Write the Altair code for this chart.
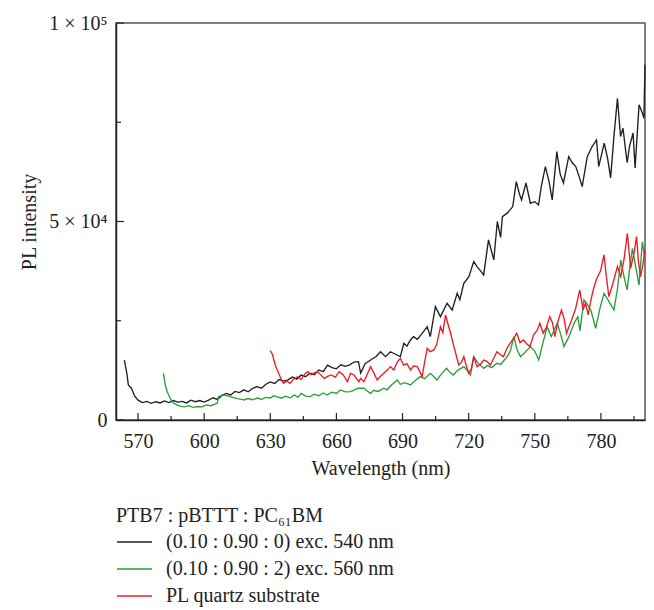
import altair as alt
import pandas as pd

# ---- data ----
black_nm = [563.8, 565, 565.6, 567, 568.5, 570, 572, 574, 576, 578, 580, 582, 584, 586, 588, 590, 592, 594, 596, 598,
            600, 602, 604, 606, 608, 610, 612, 614, 616, 618, 620, 622, 624, 626, 628, 630, 632, 634, 636, 638,
            640, 642, 644, 646, 648, 650, 652, 654, 656, 658, 660, 662, 664, 666, 668, 670, 671, 673, 675.5, 678,
            680, 682.3, 684.5, 687, 689, 690.6, 692, 693.6, 695, 696.7, 698.9, 701.2, 702.6, 704.9, 707.2, 710.2,
            712.5, 714.8, 716, 717.8, 720.1, 722.3, 723.8, 725.5, 726.8, 729, 731.4, 733, 734.5, 735.3, 737.5, 740,
            741.6, 743, 744, 746, 748, 750, 751.7, 753, 754.8, 756.5, 757.9, 760, 761.5, 763, 765.4, 767, 768.6,
            770, 771.5, 773.8, 776, 778, 779, 781.5, 783, 784.4, 786, 787.5, 788.9, 790, 791.9, 793, 794.6, 795.5,
            797.3, 799, 799.5, 800]
black_val = [15100, 11500, 8800, 8000, 6000, 5000, 4400, 4700, 4200, 4600, 4300, 4800, 4400, 4900, 4500, 4700, 4300, 5000, 4600, 4900,
             4500, 5000, 5600, 5200, 6200, 6700, 6300, 7200, 6900, 7600, 7100, 8000, 8400, 8000, 9000, 9600, 9200, 10200, 9800, 10100,
             10800, 10300, 11300, 10900, 11800, 11400, 12600, 12200, 13800, 13200, 12900, 13900, 13500, 13900, 14600, 14700, 11800, 14200, 15100, 16000,
             17200, 15960, 17200, 16500, 15960, 19320, 18600, 20160, 21000, 20300, 21840, 23500, 21000, 28560, 26040, 29400,
             27720, 31920, 30300, 34440, 36100, 39900, 38640, 37500, 36540, 45360, 40320, 50000, 46000, 51200, 52100, 53760,
             60050, 57000, 55440, 59700, 54600, 55000, 54180, 59000, 63840, 60000, 55440, 67600, 62000, 59700, 66350, 64800, 63840,
             61500, 58800, 66350, 68880, 70560, 63840, 69720, 66000, 61000, 72000, 81000, 71400, 73500, 64800, 69000, 72300, 63500,
             79380, 77000, 76000, 89500]

green_nm = [581.5, 582.3, 583.2, 583.9, 585, 586, 587.7, 589, 591, 593, 595, 597, 599, 601, 603, 605, 606, 606.5, 608, 609,
            611, 613, 615, 617, 618, 620, 622, 624, 626, 628, 630, 631.5, 633, 635, 637, 639, 641, 642.5, 644, 646,
            648, 650, 652, 654, 655.7, 658, 660, 661.8, 664, 666.4, 668, 670, 672.5, 674, 675.5, 677, 679, 681.5, 683, 685,
            687.6, 689, 691, 693.6, 695.5, 698, 700, 702.6, 704, 705.6, 707.5, 710, 711.5, 713, 715, 717.8, 719.5, 720.8,
            722.3, 724, 726.8, 728.5, 730.5, 732.8, 734.5, 736, 737.5, 739, 740.5, 742, 743.5, 745.5, 748, 750, 751.8,
            753.5, 755.6, 757.5, 760.2, 761.8, 763.2, 765.5, 767.8, 769.5, 770.5, 772.3, 774, 775.4, 776.5, 777.6, 779.5,
            781.4, 783.5, 785.9, 787.5, 789, 790.5, 791.9, 793, 794.3, 795.8, 797.3, 798.8, 800]
green_val = [11760, 9000, 7200, 6300, 5000, 4300, 3780, 3500, 3300, 3600, 3200, 3400, 3300, 3780, 3600, 4000, 4280, 5900, 6100, 6300,
             6000, 5700, 5400, 5200, 5040, 5400, 5100, 5540, 5200, 5700, 5540, 6100, 5880, 5500, 6000, 5600, 6300, 5700, 6720, 6000,
             5880, 6500, 6100, 6800, 6300, 7000, 6700, 7560, 7100, 7140, 7500, 8000, 8000, 7300, 6720, 7500, 7200, 8000, 7600, 8800,
             10080, 9000, 9400, 8820, 9800, 10920, 10400, 11760, 11000, 10080, 11500, 13020, 12000, 11340, 12500, 13440, 12400, 11340,
             15960, 14500, 13000, 13700, 13200, 14280, 14000, 15000, 15960, 17500, 21000, 17600, 15960, 17000, 18480, 17300, 15100,
             19000, 23500, 21000, 24400, 21500, 18480, 21000, 24360, 26000, 22500, 30240, 29000, 27720, 25500, 23100, 28000,
             31900, 30000, 27700, 33000, 40300, 36000, 32760, 38000, 43260, 38500, 34000, 44900, 40300]

red_nm = [630, 631, 631.6, 632.5, 633.8, 635, 636, 637.5, 639, 640.5, 642.4, 644, 645.5, 647, 648.5, 650, 651.5, 653, 654.5, 656,
          657.5, 659.5, 661.3, 663, 665, 666.4, 668, 670.2, 671, 672.5, 674, 675.5, 677, 678.5, 680, 681.5, 683, 684.5, 686, 687.5,
          689, 690.5, 692, 693.6, 695, 696.7, 698, 698.9, 700, 701.2, 702.5, 704.2, 705.5, 707.2, 708.3, 709.5, 710.7, 711.8, 713.3, 714.5,
          715.5, 716.7, 717.8, 719, 720.1, 721.3, 722.3, 723.8, 725.3, 726.8, 728.3, 729.8, 731.3, 732.8, 734.3, 735.8, 737.3, 738.8,
          740.3, 741.8, 743.3, 744.8, 746.3, 747.8, 749.5, 751, 752.3, 753.8, 755.3, 756.8, 758, 759.1, 760.6, 762.1, 763.3, 764.4,
          765.5, 766.7, 768.5, 770.4, 771.9, 773, 774.2, 775.4, 776.5, 778, 779.8, 781.4, 782.5, 783.6, 785.5, 787.5, 789, 790.5,
          792, 793.5, 795, 796.2, 797, 798, 799, 800]
red_val = [17460, 16500, 15100, 13500, 11760, 10200, 9240, 9800, 9240, 10300, 10900, 10200, 11500, 12180, 11400, 11900, 12180, 11300, 10500, 11000,
           11340, 10800, 12180, 11400, 9660, 11760, 11340, 9660, 10500, 9660, 11500, 13440, 11800, 10080, 11000, 11760, 12500, 13440, 12600, 14500,
           15540, 13800, 14200, 12600, 13600, 13440, 12000, 10920, 14500, 18060, 17200, 17640, 19000, 23500, 22000, 26460, 24000, 21840, 18480, 16000,
           13860, 14500, 15960, 13500, 11760, 13000, 15960, 13440, 14000, 15100, 14800, 13860, 15500, 17200, 16500, 15960, 18000, 19320,
           20500, 21840, 19500, 20160, 19200, 18480, 21500, 22500, 24360, 21840, 23500, 26040, 24500, 21000, 25000, 27720, 25500, 21840,
           23500, 25200, 28000, 32760, 27720, 29500, 26460, 30000, 32760, 35500, 37500, 41600, 36000, 31080, 34500, 38640, 36120, 40500,
           47000, 38220, 42000, 46200, 40000, 36120, 39000, 42840]

series_names = ["(0.10 : 0.90 : 0) exc. 540 nm", "(0.10 : 0.90 : 2) exc. 560 nm", "PL quartz substrate"]
series_colors = ["#231f20", "#2a9d3a", "#ec1c24"]

x_major = [570, 600, 630, 660, 690, 720, 750, 780]
x_minor = [585, 615, 645, 675, 705, 735, 765, 795]
y_major = [0, 50000, 100000]
y_minor = [25000, 75000]

rows = []
for nm, v in zip(black_nm, black_val):
    rows.append({"nm": nm, "val": v, "s": series_names[0]})
for nm, v in zip(green_nm, green_val):
    rows.append({"nm": nm, "val": v, "s": series_names[1]})
for nm, v in zip(red_nm, red_val):
    rows.append({"nm": nm, "val": v, "s": series_names[2]})
df = pd.DataFrame(rows)

W, H = 529, 397
FONT = "Liberation Serif"
FS = 20

xscale = alt.Scale(domain=[560, 800], nice=False, zero=False)
yscale = alt.Scale(domain=[0, 100000], nice=False)

label_expr = ("datum.value == 0 ? '0' : datum.value == 50000 ? '5 × 10⁴' : "
              "datum.value == 100000 ? '1 × 10⁵' : ''")

lines = alt.Chart(df).mark_line(strokeWidth=1.35).encode(
    x=alt.X("nm:Q", scale=xscale,
            axis=alt.Axis(title="Wavelength (nm)", values=x_major, ticks=False, tickSize=0,
                          grid=False, labelPadding=11, titlePadding=7, domainColor="#222",
                          domainWidth=1.5)),
    y=alt.Y("val:Q", scale=yscale,
            axis=alt.Axis(title="PL intensity", values=y_major, ticks=False, tickSize=0,
                          grid=False, labelExpr=label_expr, labelPadding=9, titlePadding=9,
                          domainColor="#222", domainWidth=1.5)),
    color=alt.Color("s:N", scale=alt.Scale(domain=series_names, range=series_colors),
                    legend=alt.Legend(title="PTB7 : pBTTT : PC₆₁BM", orient="none", legendX=0,
                                      legendY=483, symbolType="stroke", symbolSize=1225,
                                      symbolStrokeWidth=1.5, labelOffset=13, rowPadding=7,
                                      clipHeight=20, titlePadding=6, padding=0,
                                      labelLimit=400, titleLimit=400)),
    detail="s:N",
    order="nm:Q",
)

xt_major = alt.Chart(pd.DataFrame({"t": x_major})).mark_rule(color="#222", strokeWidth=1.2).encode(
    x=alt.X("t:Q", scale=xscale), y=alt.value(H), y2=alt.value(H - 7))
xt_minor = alt.Chart(pd.DataFrame({"t": x_minor})).mark_rule(color="#222", strokeWidth=1.2).encode(
    x=alt.X("t:Q", scale=xscale), y=alt.value(H), y2=alt.value(H - 4))
yt_major = alt.Chart(pd.DataFrame({"t": y_major})).mark_rule(color="#222", strokeWidth=1.2).encode(
    y=alt.Y("t:Q", scale=yscale), x=alt.value(0), x2=alt.value(8))
yt_minor = alt.Chart(pd.DataFrame({"t": y_minor})).mark_rule(color="#222", strokeWidth=1.2).encode(
    y=alt.Y("t:Q", scale=yscale), x=alt.value(0), x2=alt.value(5))

chart = alt.layer(lines, xt_major, xt_minor, yt_major, yt_minor).properties(
    width=W, height=H,
    autosize=alt.AutoSizeParams(type="none"),
    padding={"left": 108, "top": 15, "right": 1, "bottom": 188},
).configure_view(
    stroke="#555", strokeWidth=1.5
).configure_axis(
    labelFont=FONT, titleFont=FONT, labelFontSize=FS, titleFontSize=FS,
    labelColor="#222", titleColor="#222", titleFontWeight="normal",
).configure_legend(
    titleFont=FONT, labelFont=FONT, titleFontSize=FS, labelFontSize=FS,
    titleFontWeight="normal", titleColor="#222", labelColor="#222",
)

chart.save("out.html", embed_options={"renderer": "svg", "actions": False})
